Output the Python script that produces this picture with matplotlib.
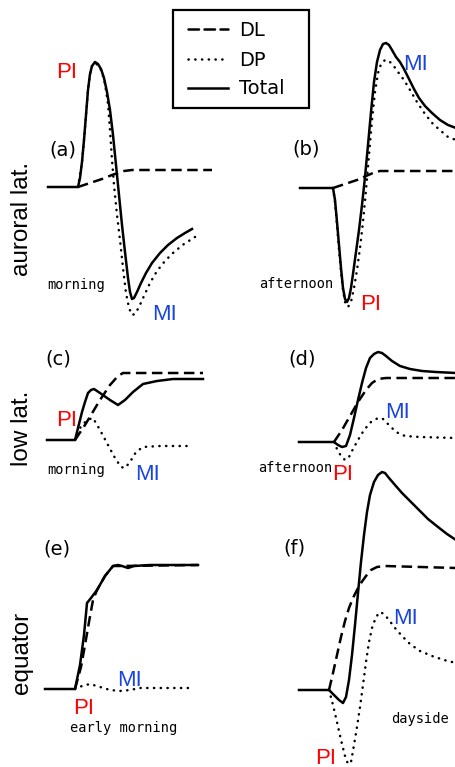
import matplotlib as mpl
mpl.use('Agg')
import matplotlib.pyplot as plt
from matplotlib.patches import Rectangle
import numpy as np

# ---- curve data: time after onset (t) and deflection above baseline (v) ----
# (a) auroral lat., morning
a_tot_t = [-30, 0, 2, 4, 6, 8, 10, 12, 14, 17, 20, 23, 26, 29, 32, 35, 38, 41, 44, 47, 50, 52,
           54, 56, 59, 63, 68, 74, 82, 90, 99, 107, 114]
a_tot_v = [0, 0, 9, 25, 47, 72, 97, 113, 121, 125, 123, 118, 109, 95, 77, 52, 22, -8, -38, -65,
           -91, -105, -112, -111, -105, -96, -86, -76, -66, -58, -51, -46, -42]
a_dp_t = [0, 4, 6, 8, 10, 12, 14, 17, 21, 24, 27, 30, 32, 34, 36, 39, 42, 45, 48, 51, 54, 57,
          61, 66, 72, 79, 87, 96, 106, 117]
a_dp_v = [0, 25, 47, 72, 97, 113, 121, 124, 121, 115, 103, 83, 57, 27, 2, -28, -53, -81, -106,
          -121, -128, -127, -120, -109, -96, -84, -74, -65, -57, -50]
a_dl_t = [0, 12, 24, 34, 40, 46, 54, 134]
a_dl_v = [0, 4, 8, 12, 14, 16, 17, 17]

# (b) auroral lat., afternoon
b_tot_t = [-33, 0, 2, 4, 6, 8, 10, 12, 14, 16, 18, 20, 23, 26, 29, 32, 35, 38, 41, 44, 47, 50,
           53, 56, 59, 63, 67, 71, 76, 81, 86, 92, 99, 107, 115, 123]
b_tot_v = [0, 0, -12, -34, -57, -80, -100, -111, -114, -110, -100, -86, -64, -42, -17, 11, 43,
           76, 106, 126, 138, 144, 145, 143, 138, 131, 126, 119, 109, 99, 90, 82, 75, 68, 63, 60]
b_dp_t = [0, 2, 4, 6, 8, 10, 12, 15, 18, 21, 24, 27, 30, 33, 36, 39, 42, 45, 48, 52, 56, 60,
          65, 71, 77, 84, 92, 100, 108, 115, 123]
b_dp_v = [0, -14, -37, -62, -84, -102, -114, -119, -114, -100, -82, -60, -34, -2, 33, 68, 96,
          115, 124, 128, 127, 123, 116, 108, 98, 86, 74, 64, 57, 51, 48]
b_dl_t = [0, 12, 24, 33, 40, 47, 57, 123]
b_dl_v = [0, 4, 8, 12, 15, 17, 17, 17]

# (c) low lat., morning
c_tot_t = [-28, 0, 3, 7, 10, 13, 16, 19, 25, 35, 43, 50, 58, 68, 82, 98, 128]
c_tot_v = [0, 0, 12, 28, 38, 47, 50, 51, 47, 40, 35, 40, 48, 56, 59, 61, 61]
c_dp_t = [0, 5, 12, 18, 25, 33, 40, 46, 50, 55, 61, 68, 85, 117]
c_dp_v = [0, 12, 20, 22, 10, -5, -18, -27, -28, -22, -12, -7, -6, -6]
c_dl_t = [0, 10, 25, 35, 43, 48, 128]
c_dl_v = [0, 15, 40, 55, 64, 67, 67]

# (d) low lat., afternoon
d_tot_t = [-35, 0, 4, 8, 12, 16, 20, 24, 28, 32, 36, 40, 44, 48, 52, 58, 66, 76, 88, 102, 122]
d_tot_v = [0, 0, -3, -5, -4, 7, 24, 42, 59, 74, 84, 88, 90, 89, 86, 81, 76, 73, 71, 70, 69]
d_dp_t = [0, 3, 7, 11, 15, 19, 24, 30, 37, 44, 49, 55, 62, 71, 86, 122]
d_dp_v = [0, -7, -14, -18, -15, -7, 2, 12, 20, 24, 23, 17, 10, 6, 5, 4]
d_dl_t = [0, 8, 16, 24, 32, 38, 44, 52, 122]
d_dl_v = [0, 12, 26, 40, 52, 59, 63, 64, 64]

# (e) equator, early morning
e_tot_t = [-30, 0, 5, 9, 12, 16, 22, 30, 38, 43, 47, 53, 59, 75, 123]
e_tot_v = [0, 0, 24, 54, 86, 91, 99, 113, 123, 124, 123, 121, 123, 124, 124]
e_dp_t = [0, 7, 15, 25, 35, 45, 55, 65, 118]
e_dp_v = [0, 3, 5, 2, -1, -2, -1, 1, 1]
e_dl_t = [0, 6, 10, 14, 18, 22, 30, 38, 45, 123]
e_dl_v = [0, 22, 44, 67, 89, 99, 113, 123, 123, 124]

# (f) equator, dayside
f_tot_t = [-30, 0, 5, 10, 14, 17, 20, 23, 26, 29, 32, 35, 38, 41, 45, 49, 53, 56, 60, 66, 73,
           81, 90, 99, 109, 118, 127]
f_tot_v = [0, 0, -5, -10, -13, -7, 10, 35, 65, 97, 128, 155, 178, 195, 208, 215, 218, 217, 212,
           205, 197, 189, 180, 171, 163, 156, 150]
f_dp_t = [0, 4, 8, 12, 16, 19, 22, 25, 28, 31, 34, 37, 40, 43, 47, 51, 55, 60, 66, 73, 81, 91,
          103, 115, 127]
f_dp_v = [0, -15, -32, -50, -66, -74, -72, -55, -37, -17, 5, 28, 48, 62, 73, 78, 76, 70, 62, 54,
          46, 39, 34, 30, 27]
f_dl_t = [0, 4, 8, 12, 16, 20, 24, 28, 32, 37, 42, 48, 56, 127]
f_dl_v = [0, 17, 35, 53, 69, 82, 92, 100, 107, 114, 120, 123, 124, 122]

# panel origin (onset x, baseline y) in figure pixels
panels = {
    'a': dict(org=(78, 187), tot=(a_tot_t, a_tot_v), dp=(a_dp_t, a_dp_v), dl=(a_dl_t, a_dl_v)),
    'b': dict(org=(333, 188), tot=(b_tot_t, b_tot_v), dp=(b_dp_t, b_dp_v), dl=(b_dl_t, b_dl_v)),
    'c': dict(org=(75, 440), tot=(c_tot_t, c_tot_v), dp=(c_dp_t, c_dp_v), dl=(c_dl_t, c_dl_v)),
    'd': dict(org=(334, 442), tot=(d_tot_t, d_tot_v), dp=(d_dp_t, d_dp_v), dl=(d_dl_t, d_dl_v)),
    'e': dict(org=(75, 689), tot=(e_tot_t, e_tot_v), dp=(e_dp_t, e_dp_v), dl=(e_dl_t, e_dl_v)),
    'f': dict(org=(329, 690), tot=(f_tot_t, f_tot_v), dp=(f_dp_t, f_dp_v), dl=(f_dl_t, f_dl_v)),
}

RED = '#ff0000'
BLUE = '#1a44e0'
LW = 1.8
DOT = (0, (0.1, 2.6))
DASH = (0, (4.2, 2.2))
SANS = 'Liberation Sans'

fig = plt.figure(figsize=(4.56, 7.67), dpi=100)
ax = fig.add_axes([0, 0, 1, 1])
ax.set_xlim(0, 456)
ax.set_ylim(767, 0)
ax.axis('off')

for key, p in panels.items():
    x0, y0 = p['org']
    t, v = p['dl']
    ax.plot(x0 + np.array(t), y0 - np.array(v), color='k', lw=LW, ls=DASH)
    t, v = p['dp']
    ax.plot(x0 + np.array(t), y0 - np.array(v), color='k', lw=LW, ls=DOT, dash_capstyle='round')
    t, v = p['tot']
    ax.plot(x0 + np.array(t), y0 - np.array(v), color='k', lw=LW, solid_joinstyle='round')

# legend box (drawn by hand to match the boxed key)
ax.add_patch(Rectangle((173, 10), 136, 98, fill=False, ec='k', lw=1.6))
for name, style, y in [('DL', DASH, 29), ('DP', DOT, 59), ('Total', '-', 88)]:
    ax.plot([188, 228], [y, y], color='k', lw=LW, ls=style, dash_capstyle='round')
    ax.text(239, y + 1, name, fontsize=14, ha='left', va='center')

# panel letters
for s, x, y in [('(a)', 63, 150), ('(b)', 306, 149), ('(c)', 58, 359),
                ('(d)', 302, 359), ('(e)', 57, 549), ('(f)', 294, 548)]:
    ax.text(x, y, s, fontsize=14, ha='center', va='center')

# local time notes
mono = 'DejaVu Sans Mono'
for s, x, y in [('morning', 47, 285), ('afternoon', 259, 284), ('morning', 47, 470),
                ('afternoon', 258, 468), ('early morning', 70, 728), ('dayside', 391, 719)]:
    ax.text(x, y, s, fontsize=9.8, family=mono, ha='left', va='center')

# row labels
for s, y in [('auroral lat.', 219), ('low lat.', 428), ('equator', 653)]:
    ax.text(22, y, s, fontsize=17.5, family=SANS, rotation=90, ha='center', va='center')

# PI / MI markers
for s, x, y, c in [('PI', 67, 73, RED), ('MI', 165, 314, BLUE),
                   ('PI', 371, 305, RED), ('MI', 416, 64, BLUE),
                   ('PI', 67, 420, RED), ('MI', 148, 475, BLUE),
                   ('PI', 343, 474, RED), ('MI', 398, 412, BLUE),
                   ('PI', 84, 708, RED), ('MI', 130, 681, BLUE),
                   ('PI', 326, 758, RED), ('MI', 406, 618, BLUE)]:
    ax.text(x, y, s, fontsize=16, color=c, ha='center', va='center', family=SANS)

fig.savefig('out.png', dpi=100)
